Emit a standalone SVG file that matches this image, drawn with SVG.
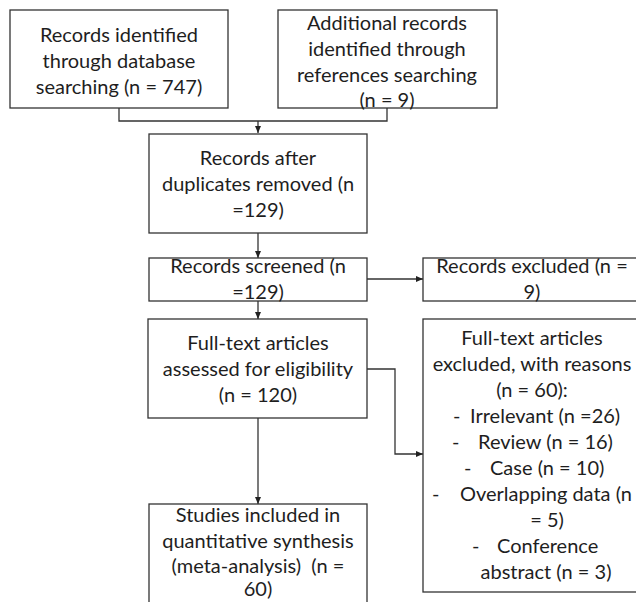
<svg xmlns="http://www.w3.org/2000/svg" width="636" height="602" viewBox="0 0 636 602">
<style>
.box{fill:#fff;stroke:#333;stroke-width:1.3}
.t{font-family:Lato,"Open Sans",sans-serif;font-size:20px;fill:#1e1e1e;text-anchor:middle}
.s{text-anchor:start}
.c{fill:none;stroke:#333;stroke-width:1.3}
</style>
<defs>
<marker id="ah" markerWidth="8" markerHeight="8" refX="7" refY="4" orient="auto" markerUnits="userSpaceOnUse">
<path d="M0,1 L7,4 L0,7 z" fill="#222"/>
</marker>
</defs>
<rect width="636" height="602" fill="#fff"/>
<g id="connectors">
<path class="c" d="M119,108 V121 H387 V108"/>
<path class="c" d="M258,121 V133" marker-end="url(#ah)"/>
<path class="c" d="M258,233 V258" marker-end="url(#ah)"/>
<path class="c" d="M367,279 H423" marker-end="url(#ah)"/>
<path class="c" d="M258,301 V319" marker-end="url(#ah)"/>
<path class="c" d="M367,369 H395 V454 H423" marker-end="url(#ah)"/>
<path class="c" d="M258,418 V504" marker-end="url(#ah)"/>
</g>
<g id="n1">
<rect class="box" x="10" y="10" width="218" height="98"/>
<text class="t" x="119" y="42">Records identified</text>
<text class="t" x="119" y="68">through database</text>
<text class="t" x="119" y="94">searching (n = 747)</text>
</g>
<g id="n2">
<rect class="box" x="278" y="10" width="219" height="98"/>
<text class="t" x="387" y="30">Additional records</text>
<text class="t" x="387" y="56">identified through</text>
<text class="t" x="387" y="82">references searching</text>
<text class="t" x="387" y="107">(n = 9)</text>
</g>
<g id="n3">
<rect class="box" x="149" y="134" width="218" height="99"/>
<text class="t" x="258" y="165">Records after</text>
<text class="t" x="258" y="191">duplicates removed (n</text>
<text class="t" x="258" y="217">=129)</text>
</g>
<g id="n4">
<rect class="box" x="149" y="258" width="218" height="43"/>
<text class="t" x="258" y="273">Records screened (n</text>
<text class="t" x="258" y="299">=129)</text>
</g>
<g id="n5">
<rect class="box" x="423" y="258" width="217" height="43"/>
<text class="t" x="532" y="273">Records excluded (n =</text>
<text class="t" x="532" y="299">9)</text>
</g>
<g id="n6">
<rect class="box" x="148" y="319" width="219" height="99"/>
<text class="t" x="258" y="350">Full-text articles</text>
<text class="t" x="258" y="376">assessed for eligibility</text>
<text class="t" x="258" y="402">(n = 120)</text>
</g>
<g id="n7">
<rect class="box" x="423" y="319" width="217" height="273"/>
<text class="t" x="532" y="345">Full-text articles</text>
<text class="t" x="532" y="371">excluded, with reasons</text>
<text class="t" x="532" y="397">(n = 60):</text>
<text class="t s" x="453" y="423">-</text><text class="t s" x="470" y="423">Irrelevant (n =26)</text>
<text class="t s" x="452" y="449">-</text><text class="t s" x="478" y="449">Review (n = 16)</text>
<text class="t s" x="464" y="475">-</text><text class="t s" x="490" y="475">Case (n = 10)</text>
<text class="t s" x="432" y="501">-</text><text class="t s" x="460" y="501">Overlapping data (n</text>
<text class="t" x="547" y="527">= 5)</text>
<text class="t s" x="472" y="553">-</text><text class="t s" x="497" y="553">Conference</text>
<text class="t" x="546" y="579">abstract (n = 3)</text>
</g>
<g id="n8">
<rect class="box" x="149" y="504" width="218" height="110"/>
<text class="t" x="258" y="522">Studies included in</text>
<text class="t" x="258" y="548">quantitative synthesis</text>
<text class="t" x="258" y="573" xml:space="preserve">(meta-analysis)  (n =</text>
<text class="t" x="258" y="596">60)</text>
</g>
</svg>
